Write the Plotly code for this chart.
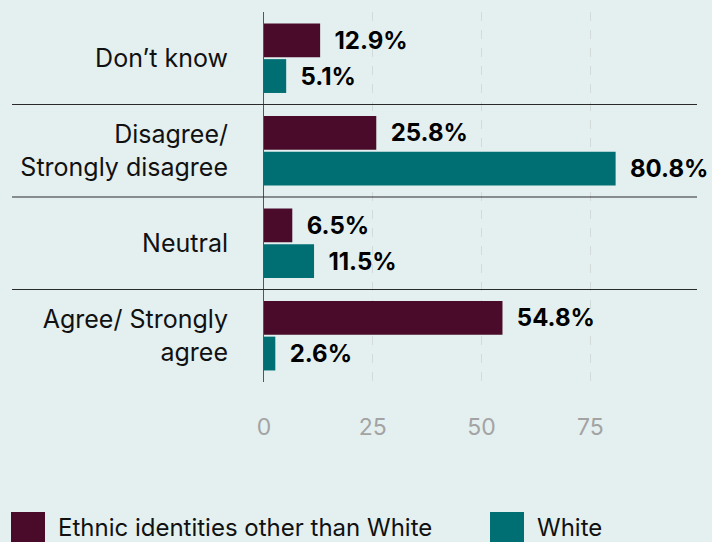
import plotly.graph_objects as go

categories = ["Don’t know", "Disagree/<br>Strongly disagree", "Neutral", "Agree/ Strongly<br>agree"]
series_names = ["Ethnic identities other than White", "White"]
non_white = [12.9, 25.8, 6.5, 54.8]
white = [5.1, 80.8, 11.5, 2.6]
tick_vals = [0, 25, 50, 75]

colors = ["#4a0b2a", "#006f73"]
bg = "#e4f0f0"
font_family = "Inter, Liberation Sans, Arial, sans-serif"

fig = go.Figure()
for name, vals, col in zip(series_names, [non_white, white], colors):
    fig.add_trace(go.Bar(
        y=categories, x=vals, orientation="h", name=name,
        marker=dict(color=col, line=dict(width=0)),
        text=["\u00a0\u00a0" + f"{v:.1f}%" for v in vals],
        textposition="outside", constraintext="none", cliponaxis=False,
        textfont=dict(family=font_family, size=24, color="#000000", weight="bold"),
        showlegend=False,
    ))

# category separators
shapes = []
for i in range(len(categories) - 1):
    shapes.append(dict(type="line", xref="paper", yref="y",
                       x0=-252 / 433, x1=1, y0=i + 0.5, y1=i + 0.5,
                       line=dict(color="#2a2a2a", width=1)))

# manual legend (large squares)
annotations = []
leg_x = [11, 490]
for name, col, lx in zip(series_names, colors, leg_x):
    x0 = (lx - 264) / 433
    x1 = (lx + 34 - 264) / 433
    shapes.append(dict(type="rect", xref="paper", yref="paper",
                       x0=x0, x1=x1, y0=(382 - 512) / 370, y1=(382 - 548) / 370,
                       fillcolor=col, line=dict(width=0)))
    annotations.append(dict(xref="paper", yref="paper",
                            x=(lx + 45 - 264) / 433, y=(382 - 527) / 370,
                            xanchor="left", yanchor="middle", showarrow=False,
                            text=name, font=dict(family=font_family, size=24, color="#111111")))

fig.update_layout(
    width=712, height=542,
    margin=dict(l=264, r=15, t=12, b=160),
    paper_bgcolor=bg, plot_bgcolor=bg,
    barmode="group", bargap=0.23, bargroupgap=0.05,
    shapes=shapes, annotations=annotations,
    font=dict(family=font_family),
    xaxis=dict(range=[0, 99.5], tickvals=tick_vals, showgrid=True,
               gridcolor="#d3dada", griddash="dash", gridwidth=1,
               zeroline=False, showline=False, ticks="",
               ticklabelstandoff=29,
               tickfont=dict(family=font_family, size=23, color="#a3a3a3")),
    yaxis=dict(autorange="reversed", showline=True, linecolor="#555555", linewidth=1,
               ticks="", showgrid=False, zeroline=False,
               ticklabelstandoff=30,
               tickfont=dict(family=font_family, size=25, color="#111111")),
)

fig.write_html("out.html", config={"displayModeBar": False},
               post_script="document.body.style.margin='0';document.body.style.overflow='hidden';")
